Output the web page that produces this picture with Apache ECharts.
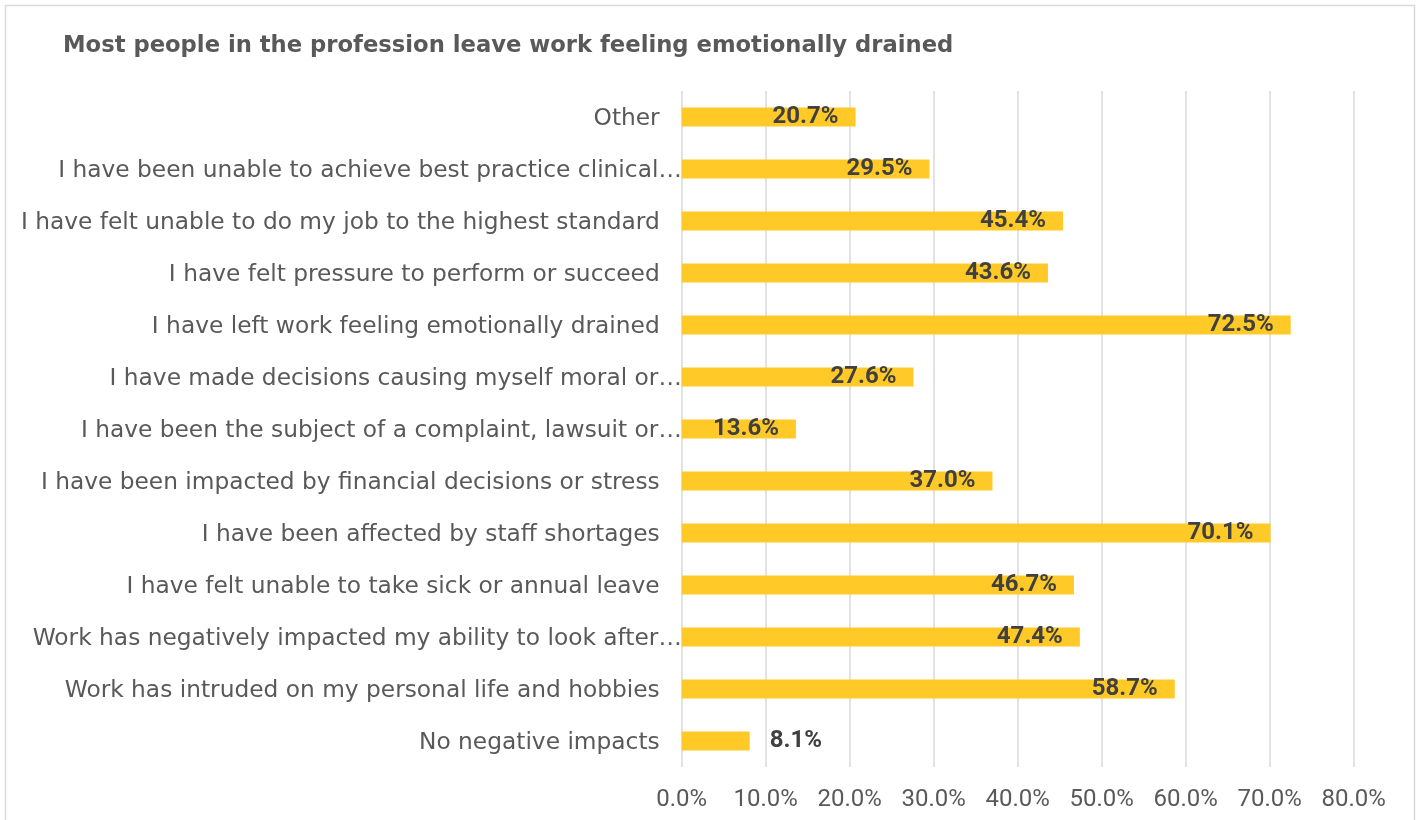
<!DOCTYPE html>
<html>
<head>
<meta charset="utf-8">
<script src="https://cdn.jsdelivr.net/npm/echarts@6/dist/echarts.min.js"></script>
<style>
html,body{margin:0;padding:0;background:#fff;}
#chart{width:1420px;height:820px;}
</style>
</head>
<body>
<div id="chart"></div>
<script>
const titleText = 'Most people in the profession leave work feeling emotionally drained';
const categories = [
  'Other',
  'I have been unable to achieve best practice clinical…',
  'I have felt unable to do my job to the highest standard',
  'I have felt pressure to perform or succeed',
  'I have left work feeling emotionally drained',
  'I have made decisions causing myself moral or…',
  'I have been the subject of a complaint, lawsuit or…',
  'I have been impacted by financial decisions or stress',
  'I have been affected by staff shortages',
  'I have felt unable to take sick or annual leave',
  'Work has negatively impacted my ability to look after…',
  'Work has intruded on my personal life and hobbies',
  'No negative impacts'
];
const values = [20.7, 29.5, 45.4, 43.6, 72.5, 27.6, 13.6, 37.0, 70.1, 46.7, 47.4, 58.7, 8.1];
const xTicks = [0, 10, 20, 30, 40, 50, 60, 70, 80];

const chart = echarts.init(document.getElementById('chart'));
const textFont = 'DejaVu Sans';
const numFont = 'Roboto';

const seriesData = values.map(function (v) {
  const item = { value: v };
  if (v < 10) {
    item.label = { position: 'right', distance: 20 };
  }
  return item;
});

chart.setOption({
  animation: false,
  backgroundColor: '#ffffff',
  graphic: [{
    type: 'rect',
    shape: { x: 5.5, y: 5.5, width: 1409, height: 840 },
    style: { fill: 'none', stroke: '#d9d9d9', lineWidth: 1.5 },
    silent: true
  }],
  title: {
    text: titleText,
    left: 63,
    top: 35,
    padding: 0,
    textStyle: {
      fontFamily: textFont,
      fontWeight: 'bold',
      fontSize: 22.7,
      color: '#595959'
    }
  },
  grid: {
    left: 681.7,
    right: 66.3,
    top: 91,
    bottom: 53,
    containLabel: false
  },
  xAxis: {
    type: 'value',
    min: xTicks[0],
    max: xTicks[xTicks.length - 1],
    interval: 10,
    axisLine: { show: false },
    axisTick: { show: false },
    splitLine: { show: true, lineStyle: { color: '#d9d9d9', width: 1.5 } },
    axisLabel: {
      margin: 21,
      fontFamily: numFont,
      fontSize: 24,
      color: '#595959',
      formatter: function (v) { return v.toFixed(1) + '%'; }
    }
  },
  yAxis: {
    type: 'category',
    inverse: true,
    data: categories,
    axisLine: { show: false },
    axisTick: { show: false },
    splitLine: { show: false },
    axisLabel: {
      margin: 0,
      interval: 0,
      fontFamily: textFont,
      fontSize: 23.3,
      color: '#595959',
      formatter: function (v) {
        return v.endsWith('…') ? '{t|' + v + '}' : '{n|' + v + '}';
      },
      rich: {
        n: { fontFamily: textFont, fontSize: 23.3, color: '#595959', padding: [4, 22, 0, 0] },
        t: { fontFamily: textFont, fontSize: 23.3, color: '#595959', padding: [4, 0, 0, 0] }
      }
    }
  },
  series: [{
    type: 'bar',
    data: seriesData,
    barWidth: 19,
    itemStyle: { color: '#FFCA28' },
    label: {
      show: true,
      position: 'insideRight',
      distance: 17,
      fontFamily: numFont,
      fontWeight: 'bold',
      fontSize: 24,
      color: '#404040',
      formatter: function (p) { return p.value.toFixed(1) + '%'; }
    }
  }]
});
</script>
</body>
</html>
